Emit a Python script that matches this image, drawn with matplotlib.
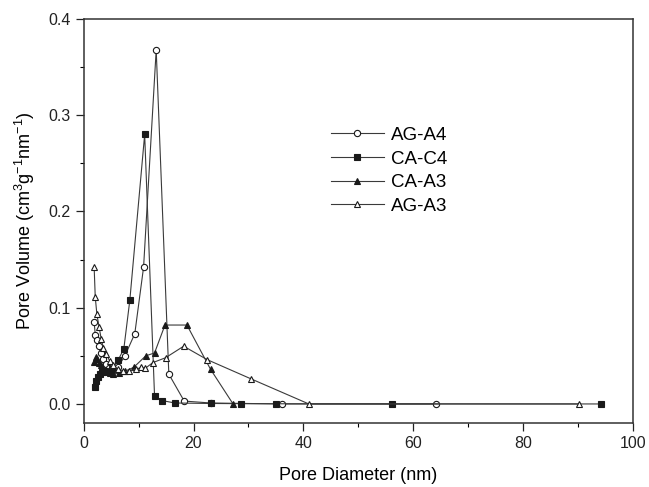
import matplotlib
matplotlib.use("Agg")
import matplotlib.pyplot as plt
from matplotlib.ticker import MultipleLocator

plt.rcParams['font.family'] = ['Liberation Sans', 'DejaVu Sans']
plt.rcParams['mathtext.default'] = 'regular'

# AG-A4 (open circles)
ag_a4_x = [1.9, 2.1, 2.4, 2.7, 3.1, 3.5, 4.0, 4.6, 5.3, 6.2, 7.5, 9.3, 10.9, 13.2, 15.5, 18.3, 23.1, 36.1, 64.2]
ag_a4_y = [0.085, 0.072, 0.066, 0.060, 0.053, 0.047, 0.042, 0.037, 0.034, 0.038, 0.050, 0.073, 0.142, 0.368,
           0.031, 0.003, 0.001, 0.0, 0.0]

# CA-C4 (filled squares)
ca_c4_x = [2.0, 2.3, 2.6, 3.0, 3.4, 3.9, 4.5, 5.2, 6.3, 7.3, 8.4, 11.1, 12.9, 14.3, 16.6, 23.1, 28.7, 35.1,
           56.2, 94.3]
ca_c4_y = [0.018, 0.024, 0.028, 0.031, 0.033, 0.034, 0.033, 0.036, 0.046, 0.057, 0.108, 0.280, 0.008, 0.0035,
           0.001, 0.0005, 0.0003, 0.0002, 0.0001, 0.0]

# CA-A3 (filled triangles)
ca_a3_x = [1.9, 2.2, 2.5, 2.8, 3.2, 3.6, 4.1, 4.7, 5.4, 6.5, 7.5, 9.1, 11.3, 12.9, 14.8, 18.8, 23.1, 27.2]
ca_a3_y = [0.044, 0.049, 0.047, 0.043, 0.040, 0.036, 0.034, 0.032, 0.031, 0.032, 0.034, 0.038, 0.050, 0.053,
           0.082, 0.082, 0.036, 0.0]

# AG-A3 (open triangles)
ag_a3_x = [1.9, 2.1, 2.4, 2.8, 3.2, 3.6, 4.1, 4.7, 5.4, 6.2, 7.1, 8.2, 9.5, 10.5, 11.2, 12.6, 14.9, 18.2,
           22.5, 30.5, 41.0, 90.2]
ag_a3_y = [0.142, 0.111, 0.093, 0.080, 0.067, 0.058, 0.052, 0.045, 0.040, 0.036, 0.034, 0.034, 0.036, 0.038,
           0.037, 0.043, 0.048, 0.060, 0.046, 0.026, 0.0, 0.0]

line_col = '#3a3a3a'

fig = plt.figure(figsize=(6.49, 4.87), dpi=100)
ax = fig.add_axes([0.129, 0.131, 0.846, 0.830])

common = dict(color=line_col, lw=0.8, ms=4.5, mec='#1a1a1a', mew=0.8)
ax.plot(ag_a4_x, ag_a4_y, marker='o', mfc='white', label='AG-A4', **common)
ax.plot(ca_c4_x, ca_c4_y, marker='s', mfc='#1a1a1a', label='CA-C4', **common)
ax.plot(ca_a3_x, ca_a3_y, marker='^', mfc='#1a1a1a', label='CA-A3', **common)
ax.plot(ag_a3_x, ag_a3_y, marker='^', mfc='white', label='AG-A3', **common)

ax.set_xlim(0, 100)
ax.set_ylim(-0.02, 0.4)
ax.xaxis.set_major_locator(MultipleLocator(20))
ax.xaxis.set_minor_locator(MultipleLocator(10))
ax.yaxis.set_major_locator(MultipleLocator(0.1))
ax.yaxis.set_minor_locator(MultipleLocator(0.05))
ax.yaxis.set_major_formatter(plt.FuncFormatter(lambda v, p: f'{v:.1f}'))
ax.tick_params(which='major', direction='out', length=6, width=0.9, labelsize=11.5, colors='#222222')
ax.tick_params(which='minor', direction='out', length=3, width=0.8)
ax.tick_params(top=False, right=False)
for s in ax.spines.values():
    s.set_linewidth(1.1)
    s.set_color('#333333')

ax.set_xlabel('Pore Diameter (nm)', fontsize=13, labelpad=11)
ax.set_ylabel('Pore Volume (cm$^3$g$^{-1}$nm$^{-1}$)', fontsize=13, labelpad=8)

ax.legend(loc='upper left', bbox_to_anchor=(0.42, 0.775), frameon=False, fontsize=13.5,
          handlelength=2.8, handletextpad=0.4, labelspacing=0.35)

fig.savefig('out.png', dpi=100)
